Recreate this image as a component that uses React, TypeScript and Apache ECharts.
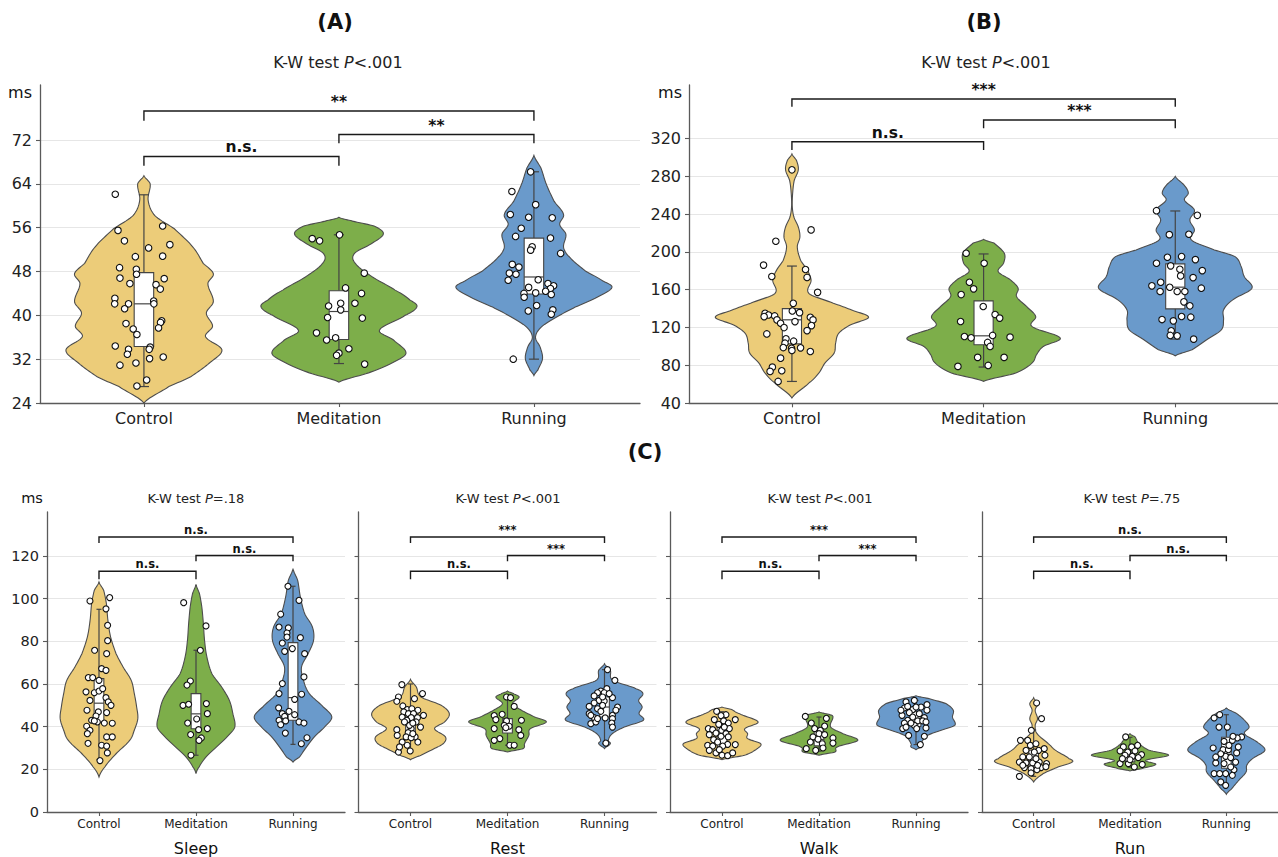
import React, { useEffect, useRef } from "react";
import * as echarts from "echarts";

// ---------- categories & styling ----------
const GROUPS = ["Control", "Meditation", "Running"];
const COLORS = ["#ECCC79", "#7DAE4A", "#6A9ACB"];
const FONT = "DejaVu Sans";

// ---------- tick labels ----------
const A_TICKS = [24, 32, 40, 48, 56, 64, 72];
const B_TICKS = [40, 80, 120, 160, 200, 240, 280, 320];
const C_TICKS = [0, 20, 40, 60, 80, 100, 120];
const C_CONDITIONS = ["Sleep", "Rest", "Walk", "Run"];
const C_PVALUES = ["=.18", "<.001", "<.001", "=.75"];

// ---------- observations: [jitter offset, ms] ----------
const aControl = [[-0.147,62.1],[-0.133,55.5],[0.096,56.3],[-0.1,53.6],[0.133,52.9],[0.024,52.3],[-0.044,50.7],[0.096,50.8],[-0.125,48.7],[-0.039,48.4],[-0.123,46.8],[-0.038,47.5],[0.104,46.7],[-0.072,45.8],[0.062,45.6],[0.084,44.8],[-0.149,43.1],[-0.15,42.1],[-0.079,42.1],[-0.099,41.2],[0.05,42.6],[0.051,42.1],[-0.092,38.5],[0.091,39.0],[0.085,38.7],[0.075,37.7],[-0.055,37.5],[-0.036,36.5],[-0.147,34.4],[-0.079,33.8],[-0.085,32.9],[0.032,34.2],[0.027,33.8],[-0.041,31.3],[0.029,32.1],[0.099,32.4],[-0.123,30.9],[0.014,28.2],[-0.036,27.1]];
const aMeditation = [[-0.137,54.0],[-0.099,53.6],[0.003,54.7],[0.13,47.7],[0.034,45.0],[0.116,44.0],[0.009,42.2],[-0.053,41.7],[0.082,42.2],[0.009,41.0],[-0.058,39.6],[0.12,39.5],[-0.115,36.8],[-0.063,35.5],[-0.017,35.9],[0.051,33.9],[0,33.1],[-0.012,32.7],[0.132,31.1]];
const aRunning = [[-0.017,66.2],[-0.113,62.6],[0.009,60.2],[-0.121,58.4],[-0.027,57.9],[0.094,57.8],[-0.065,55.9],[-0.094,54.4],[0.085,54.1],[-0.009,52.5],[-0.017,51.9],[0.137,51.3],[-0.111,49.3],[-0.077,48.8],[-0.126,47.7],[-0.092,47.5],[-0.132,46.4],[0.022,46.5],[-0.027,45.1],[0.072,45.8],[0.101,45.4],[0.085,44.9],[0.06,44.4],[0.009,44.1],[-0.051,44.0],[-0.05,43.3],[0.089,43.8],[0.014,41.8],[-0.029,40.8],[0.097,41.0],[0.089,40.2],[-0.106,32.0]];

const bControl = [[0,286.7],[0.1,223.2],[-0.084,211.2],[-0.148,186.0],[0.071,181.4],[0.079,173.0],[-0.105,174.0],[0.134,157.2],[0.007,145.6],[0.002,137.5],[0.04,135.8],[-0.14,135.1],[-0.122,133.3],[-0.145,131.6],[-0.09,132.3],[-0.078,128.1],[-0.059,124.6],[-0.041,120.0],[0.096,130.9],[0.11,128.1],[0.102,122.1],[0.079,116.8],[0.016,126.3],[-0.131,113.3],[-0.031,108.1],[-0.036,103.5],[0.009,105.6],[-0.045,98.9],[-0.002,98.2],[0,95.8],[0.045,98.6],[0.096,94.7],[-0.059,87.7],[-0.102,78.2],[-0.114,73.7],[-0.053,74.4],[-0.072,63.1]];
const bMeditation = [[-0.091,198.5],[0.003,188.0],[-0.074,167.9],[-0.052,160.9],[-0.117,154.9],[-0.002,142.3],[0.06,133.8],[0.084,130.0],[-0.12,126.4],[-0.1,110.6],[-0.065,109.2],[0.047,111.7],[0.138,109.9],[0.021,104.3],[0.034,100.1],[-0.031,88.5],[0.107,88.5],[-0.134,79.0],[0.024,80.0]];
const bRunning = [[-0.098,243.5],[0.115,238.6],[-0.031,218.2],[0.071,218.6],[-0.041,194.3],[0.033,195.0],[0.105,191.8],[-0.098,188.0],[-0.024,185.2],[0.024,181.6],[0.141,180.2],[0.028,174.6],[0.093,172.8],[-0.076,167.9],[-0.122,164.1],[-0.079,158.1],[-0.029,162.6],[0.01,158.1],[0.05,158.1],[0.136,161.6],[0.045,147.2],[0.076,143.0],[0.033,131.7],[0.081,131.0],[-0.069,128.5],[-0.01,127.1],[-0.021,116.6],[-0.026,111.7],[0.01,111.3],[0.096,107.8]];

const sleepControl = [[-0.093,98.9],[0.11,100.5],[0.072,95.2],[0.089,87.5],[0.089,80.3],[-0.045,75.8],[0.079,74.2],[0.027,67.2],[0.072,66.4],[-0.11,63.0],[-0.065,63.0],[-0.134,56.3],[-0.048,55.9],[0,56.7],[0.038,57.8],[-0.093,52.3],[0.072,53.6],[0.096,51.6],[0.124,50.0],[-0.124,47.7],[-0.007,46.9],[0.079,46.6],[-0.031,45.0],[-0.076,43.0],[-0.017,42.2],[0.055,41.7],[0.137,41.6],[-0.127,40.2],[-0.093,38.3],[-0.12,36.7],[0.079,35.2],[0.137,35.2],[-0.113,32.2],[0.027,31.3],[0.079,30.9],[0.086,27.7],[0.01,24.1],[-0.048,42.7],[0,61.7]];
const sleepMeditation = [[-0.127,98.1],[0.103,87.2],[0.045,75.8],[-0.058,61.4],[-0.093,59.5],[-0.134,50.0],[-0.076,50.5],[0.107,50.8],[0.117,46.1],[0.007,43.6],[-0.086,41.7],[0.027,38.6],[0.117,39.1],[-0.055,36.3],[0.055,34.7],[0.031,33.6],[-0.052,26.6]];
const sleepRunning = [[-0.052,105.8],[0.062,99.2],[-0.127,92.7],[-0.144,86.7],[-0.048,86.3],[-0.062,83.9],[0.076,81.7],[-0.11,79.2],[-0.062,82.0],[-0.007,76.6],[-0.086,75.3],[0.12,74.2],[0.113,63.3],[-0.11,60.2],[0.089,55.2],[-0.144,55.5],[0.017,52.8],[-0.148,48.8],[-0.041,47.2],[-0.11,46.1],[0.017,45.6],[-0.086,44.8],[-0.144,43.0],[-0.076,42.7],[0.062,42.2],[0.113,41.7],[-0.127,40.9],[-0.079,37.0],[0.144,34.8],[0.086,32.0]];

const restControl = [[-0.089,59.7],[0.124,55.5],[-0.124,53.9],[0.041,53.1],[-0.141,51.9],[-0.079,49.7],[-0.034,48.0],[0.014,48.4],[0.076,47.7],[-0.069,46.9],[-0.021,46.1],[0.031,46.1],[0.134,45.3],[-0.086,44.5],[0.007,44.2],[0.072,44.2],[-0.038,43.0],[0.103,39.8],[-0.141,38.6],[0.007,39.1],[-0.024,37.2],[-0.137,35.9],[0.048,35.2],[-0.045,35.2],[0.007,34.8],[0.076,32.8],[-0.086,32.8],[-0.034,31.3],[-0.124,28.1],[-0.003,28.6],[-0.01,40.6],[0.024,36.7],[-0.062,42.2],[0.058,42.2],[-0.113,30.5],[0.024,41.7]];
const restMeditation = [[-0.01,53.9],[0.031,53.6],[0.069,49.5],[-0.137,45.2],[-0.055,45.8],[-0.12,43.3],[-0.01,42.7],[-0.034,40.6],[0.144,43.0],[0.017,40.2],[-0.137,39.1],[0.117,38.6],[0.137,35.9],[-0.079,34.4],[-0.137,33.6],[0.024,31.3],[0.069,31.3],[-0.017,39.5]];
const restRunning = [[0.031,66.7],[0.107,61.7],[0.024,57.8],[-0.038,56.7],[-0.072,55.9],[-0.003,55.9],[-0.107,54.4],[0.082,53.6],[-0.055,52.3],[-0.003,52.0],[-0.107,51.1],[-0.072,48.4],[0.134,49.2],[-0.158,49.5],[-0.038,47.2],[0.082,45.3],[-0.158,46.1],[0.007,44.1],[0.082,43.75],[-0.107,44.2],[0.075,41.7],[-0.141,41.4],[0.082,39.8],[0.014,32.3],[-0.02,53.9],[0.048,55.5],[-0.089,42.2],[-0.141,45.3],[-0.02,50.0],[0.117,47.7],[-0.072,43.8]];

const walkControl = [[-0.055,47.2],[0.041,45.6],[-0.01,45.2],[0.137,43.3],[-0.079,43.3],[0.017,42.7],[0.065,41.7],[-0.034,41.1],[-0.141,39.1],[-0.096,38.6],[0.076,39.1],[-0.003,38.3],[-0.062,37.0],[0.041,36.7],[-0.131,36.25],[-0.01,35.5],[0.065,35.2],[-0.086,33.9],[-0.045,32.8],[-0.148,31.25],[-0.096,30.9],[0.058,31.7],[0.137,31.6],[0.007,30.9],[-0.131,28.9],[-0.062,27.7],[0,26.6],[0.058,26.4],[0.11,27.7],[-0.027,29.2],[0.024,39.8]];
const walkMeditation = [[-0.141,44.8],[0.076,43.9],[-0.079,41.7],[0.058,40.3],[-0.045,39.1],[0.014,38.3],[0,36.7],[0.058,36.25],[-0.062,35.2],[-0.01,34.1],[0.144,34.7],[-0.089,32.8],[0.034,32.0],[0.144,32.3],[-0.131,29.7],[-0.034,28.9],[0.041,30.0]];
const walkRunning = [[-0.017,52.3],[-0.103,51.6],[0.113,50.3],[-0.12,48.75],[-0.034,48.0],[0.052,49.2],[0.113,47.7],[-0.069,46.6],[0.034,46.1],[-0.144,45.3],[-0.034,44.5],[0.086,44.2],[-0.086,43.0],[0.017,42.7],[-0.12,41.7],[-0.017,40.6],[0.103,39.4],[-0.137,39.1],[0.007,39.1],[-0.076,35.9],[0.086,35.5],[0.045,31.6],[0.069,42.7],[-0.052,41.7],[-0.086,49.5],[-0.155,47.7],[0,49.2],[0.103,42.2],[-0.103,39.8]];

const runControl = [[0.031,51.1],[0.082,43.75],[-0.024,38.3],[-0.137,33.6],[-0.062,33.6],[-0.034,31.25],[0.024,32.0],[0.11,29.7],[0.052,28.9],[-0.113,25.8],[-0.045,25.8],[0.007,28.1],[0.117,26.6],[-0.148,23.4],[-0.079,23.0],[-0.01,23.0],[0.058,23.4],[0.134,22.7],[-0.096,20.8],[-0.027,20.3],[0.076,20.8],[0.034,19.8],[-0.027,18.3],[-0.148,16.7],[0.024,25.0],[-0.079,28.9],[0.127,21.25],[-0.113,21.9],[0.041,21.9]];
const runMeditation = [[-0.045,35.2],[0.079,31.25],[-0.069,30.5],[0.017,30.5],[-0.103,28.6],[-0.024,28.1],[0.052,28.6],[0.12,26.9],[-0.052,26.6],[0.024,26.1],[0.086,25.5],[-0.103,22.7],[-0.017,22.7],[0.045,21.1],[0.127,22.3],[0,24.5],[-0.079,25.0]];
const runRunning = [[-0.069,45.6],[-0.127,44.1],[0.01,39.8],[-0.076,39.8],[0.158,35.2],[0.113,34.7],[0.062,33.6],[-0.024,33.1],[-0.137,30.0],[-0.034,29.2],[0.021,29.2],[0.107,27.7],[-0.007,26.1],[0.045,25.5],[-0.11,23.0],[0.096,23.4],[-0.024,22.7],[0.079,19.8],[-0.127,18.0],[-0.069,18.0],[-0.007,18.0],[0.062,17.2],[-0.058,14.1],[-0.007,12.5],[-0.058,27.3],[0.027,31.25],[0.069,35.5],[0.124,30.5],[-0.11,25.8],[0.045,21.1]];

// ---------- density outlines: [ms, relative half-width] ----------
const aControlShape = [[65.5,0],[64,0.08],[61,0.054],[58.2,0.14],[55.8,0.39],[52.5,0.625],[49.5,0.76],[47.6,0.89],[45.8,0.82],[42.5,0.89],[40.4,0.8],[38,0.88],[36.1,0.79],[33.7,1.0],[31.3,0.84],[28.8,0.6],[27,0.32],[24,0]];
const aMeditationShape = [[57.9,0],[57.3,0.15],[56.3,0.45],[54.9,0.57],[53.2,0.43],[51.3,0.2],[49.5,0.21],[47,0.43],[44.6,0.72],[42.8,0.91],[41.6,1.0],[40,0.85],[37.3,0.52],[35.5,0.7],[33.1,0.86],[31.3,0.68],[29.5,0.38],[27.8,0]];
const aRunningShape = [[69.2,0],[66.9,0.09],[63.9,0.16],[60.8,0.26],[58.4,0.38],[56.6,0.33],[54.8,0.41],[52.4,0.38],[50.6,0.46],[48.1,0.66],[46.3,0.88],[45.1,1.0],[43.3,0.81],[41.5,0.53],[39.6,0.28],[37.8,0.09],[36.0,0.02],[34.2,0.08],[32.1,0.11],[30.0,0.05],[29.0,0]];

const bControlShape = [[303.5,0],[296.5,0.06],[286.7,0.083],[275.4,0.03],[261.4,0.009],[247.4,0.005],[236.8,0.026],[226.3,0.083],[215.8,0.104],[205.3,0.07],[191.2,0.113],[180.7,0.2],[170.2,0.25],[156.1,0.22],[145.6,0.54],[138.6,0.78],[130.9,1.0],[122.8,0.76],[114,0.61],[103.5,0.57],[93,0.55],[82.4,0.43],[71.9,0.35],[61.4,0.22],[45.6,0]];
const bMeditationShape = [[213.3,0],[209.1,0.14],[198.5,0.27],[188,0.26],[179.2,0.19],[170.4,0.35],[161.6,0.45],[152.8,0.43],[142.3,0.56],[131.7,0.68],[121.2,0.63],[108.9,1.0],[100.1,0.78],[91.3,0.69],[82.5,0.63],[72,0.42],[63.2,0]];
const bRunningShape = [[279.8,0],[270,0.12],[262,0.17],[254.8,0.12],[244.2,0.25],[233.7,0.19],[223.1,0.25],[212.6,0.21],[202,0.51],[195,0.78],[184.4,0.86],[173.9,0.9],[161.6,1.0],[149.3,0.75],[138.7,0.63],[128.2,0.63],[117.6,0.6],[107.1,0.41],[96.6,0.22],[90.2,0]];

const sleepControlShape = [[107.8,0],[103.9,0.12],[97.7,0.19],[89.8,0.23],[82,0.3],[74.2,0.44],[68,0.62],[61.7,0.83],[55.5,0.91],[49.2,0.97],[43.75,1.0],[38.3,0.91],[33.6,0.79],[27.3,0.44],[21.1,0.15],[16.4,0]];
const sleepMeditationShape = [[106.7,0],[102.3,0.09],[96.1,0.15],[88.3,0.19],[80.5,0.22],[72.7,0.28],[64.8,0.41],[58.6,0.66],[52.3,0.86],[46.1,0.95],[39.8,1.0],[35.2,0.8],[30.5,0.53],[25.8,0.26],[21.1,0.08],[18,0]];
const sleepRunningShape = [[114,0],[108.6,0.12],[100.8,0.19],[93,0.3],[86.7,0.5],[80.5,0.53],[74.2,0.39],[68,0.22],[61.7,0.27],[55.5,0.42],[49.2,0.78],[44.5,1.0],[39.8,0.81],[35.2,0.55],[30.5,0.35],[25.8,0.17],[23.4,0]];

const restControlShape = [[62.2,0],[58.6,0.15],[53.9,0.27],[50,0.79],[46.1,1.0],[42.2,0.88],[39.1,0.62],[35.2,0.9],[32,0.84],[28.9,0.53],[26.6,0.27],[24.5,0]];
const restMeditationShape = [[56.7,0],[55.5,0.15],[53.9,0.3],[50.8,0.13],[47.7,0.36],[44.5,0.7],[42.2,1.0],[39.1,0.59],[35.9,0.55],[32,0.44],[29.7,0.4],[28.1,0]];
const restRunningShape = [[69.5,0],[66.4,0.15],[61.7,0.21],[57.8,0.81],[55.5,0.99],[52.3,0.88],[49.2,0.97],[46.1,0.89],[43,1.0],[39.8,0.51],[36.7,0.2],[33.6,0.1],[32,0.15],[29.7,0]];

const walkControlShape = [[49.2,0],[48,0.25],[46.1,0.45],[42.2,0.93],[39.1,0.59],[36.7,0.66],[34.4,0.66],[32,1.0],[29.2,0.87],[26.6,0.58],[24.5,0]];
const walkMeditationShape = [[46.9,0],[45.5,0.3],[44.5,0.36],[39.8,0.3],[36.7,0.62],[33.6,1.0],[30.5,0.47],[28.1,0.41],[26.6,0]];
const walkRunningShape = [[54.5,0],[53.1,0.35],[50.8,0.77],[47.7,0.96],[44.5,0.94],[40.6,1.0],[38.3,0.65],[35.9,0.29],[32,0.13],[30.5,0.13],[29.2,0]];

const runControlShape = [[53.6,0],[50.8,0.1],[47.7,0.04],[43.75,0.1],[40.6,0.04],[36.7,0.09],[32,0.38],[28.9,0.57],[25,0.92],[23.4,1.0],[21.1,0.63],[18,0.25],[14.1,0]];
const runMeditationShape = [[36.7,0],[35.2,0.13],[32,0.24],[28.9,0.5],[26.6,1.0],[24.2,0.41],[22.3,0.67],[20.3,0.3],[19.2,0]];
const runRunningShape = [[48.75,0],[46.1,0.27],[43,0.47],[39.8,0.59],[36.7,0.47],[32.8,0.8],[28.9,1.0],[25,0.68],[21.9,0.53],[18.75,0.51],[14.8,0.32],[10.9,0.14],[8.3,0]];

// ---------- box statistics: [lower whisker, Q1, median, Q3, upper whisker] ----------
const aBoxes = [[27.0,34.3,42.1,47.8,62.0],[31.2,35.6,40.7,44.5,54.7],[32.0,43.9,47.0,54.1,66.2]];
const bBoxes = [[63.1,102.8,128.2,140.0,185.0],[78.3,101.8,111.3,148.2,197.8],[107.8,139.8,162.7,187.3,243.2]];
const sleepBoxes = [[24.5,42,51,62.5,95],[26.6,39,46,55.5,75.8],[31.7,43,53.6,79.4,105.8]];
const restBoxes = [[28,36,42,47,60],[31.3,37,41,43.75,53.9],[32,44.5,49.2,53.9,66.7]];
const walkBoxes = [[26.5,30.5,35.5,41,47],[28.5,31,34,38,44.5],[31.6,40,43.5,47,52.3]];
const runBoxes = [[16.7,21,24,29,38.5],[21,23.5,26,28,35],[12.5,20.5,27,35,45.6]];

// ---------- pairwise comparisons: [from, to, bar level, leg end, label] ----------
const aBrackets = [[0,1,69.0,67.3,"n.s."],[1,2,73.0,71.4,"**"],[0,2,77.3,75.5,"**"]];
const bBrackets = [[0,1,316.4,307.6,"n.s."],[1,2,339.3,330.6,"***"],[0,2,361.5,353.4,"***"]];
const sleepBrackets = [[0,1,112.8,109.1,"n.s."],[1,2,120.2,117.5,"n.s."],[0,2,128.9,126.1,"n.s."]];
const restBrackets = [[0,1,112.8,109.1,"n.s."],[1,2,120.2,117.5,"***"],[0,2,128.9,126.1,"***"]];
const walkBrackets = [[0,1,112.8,109.1,"n.s."],[1,2,120.2,117.5,"***"],[0,2,128.9,126.1,"***"]];
const runBrackets = [[0,1,112.8,109.1,"n.s."],[1,2,120.2,117.5,"n.s."],[0,2,128.9,126.1,"n.s."]];

// ---------- panel layout ----------
const PANELS = [
  { left: 40, top: 85, width: 600, height: 318, xMin: -0.533, xMax: 2.544, yMin: 24, yMax: 82.04, ticks: A_TICKS, showY: true, big: true, xName: "",
    pts: [aControl, aMeditation, aRunning], shapes: [aControlShape, aMeditationShape, aRunningShape], boxes: aBoxes, brackets: aBrackets },
  { left: 689, top: 85, width: 594.6, height: 318.3, xMin: -0.537, xMax: 2.536, yMin: 40, yMax: 376.3, ticks: B_TICKS, showY: true, big: true, xName: "",
    pts: [bControl, bMeditation, bRunning], shapes: [bControlShape, bMeditationShape, bRunningShape], boxes: bBoxes, brackets: bBrackets },
  { left: 47, top: 512, width: 298, height: 300, xMin: -0.536, xMax: 2.536, yMin: 0, yMax: 140.6, ticks: C_TICKS, showY: true, big: false, xName: C_CONDITIONS[0],
    pts: [sleepControl, sleepMeditation, sleepRunning], shapes: [sleepControlShape, sleepMeditationShape, sleepRunningShape], boxes: sleepBoxes, brackets: sleepBrackets },
  { left: 358.5, top: 512, width: 298, height: 300, xMin: -0.536, xMax: 2.536, yMin: 0, yMax: 140.6, ticks: C_TICKS, showY: false, big: false, xName: C_CONDITIONS[1],
    pts: [restControl, restMeditation, restRunning], shapes: [restControlShape, restMeditationShape, restRunningShape], boxes: restBoxes, brackets: restBrackets },
  { left: 670, top: 512, width: 298, height: 300, xMin: -0.536, xMax: 2.536, yMin: 0, yMax: 140.6, ticks: C_TICKS, showY: false, big: false, xName: C_CONDITIONS[2],
    pts: [walkControl, walkMeditation, walkRunning], shapes: [walkControlShape, walkMeditationShape, walkRunningShape], boxes: walkBoxes, brackets: walkBrackets },
  { left: 982, top: 512, width: 298, height: 300, xMin: -0.536, xMax: 2.536, yMin: 0, yMax: 140.6, ticks: C_TICKS, showY: false, big: false, xName: C_CONDITIONS[3],
    pts: [runControl, runMeditation, runRunning], shapes: [runControlShape, runMeditationShape, runRunningShape], boxes: runBoxes, brackets: runBrackets },
];

const VIOLIN_HALF = 0.4;
const BOX_HALF = 0.05;
const CAP_HALF = 0.026;
const INK = "#444";

function catmull(p0: number, p1: number, p2: number, p3: number, t: number) {
  const t2 = t * t, t3 = t2 * t;
  return 0.5 * (2 * p1 + (-p0 + p2) * t + (2 * p0 - 5 * p1 + 4 * p2 - p3) * t2 + (-p0 + 3 * p1 - 3 * p2 + p3) * t3);
}

// smooth outline between the sampled widths
function densify(shape: number[][]) {
  const out: number[][] = [];
  const n = shape.length;
  for (let i = 0; i < n - 1; i++) {
    const w0 = shape[Math.max(0, i - 1)][1];
    const w1 = shape[i][1];
    const w2 = shape[i + 1][1];
    const w3 = shape[Math.min(n - 1, i + 2)][1];
    const steps = 10;
    for (let s = 0; s < steps; s++) {
      const t = s / steps;
      const v = shape[i][0] + (shape[i + 1][0] - shape[i][0]) * t;
      out.push([v, Math.max(0, catmull(w0, w1, w2, w3, t))]);
    }
  }
  out.push(shape[n - 1]);
  return out;
}

function kwText(p: string, size: number, x: number, y: number) {
  const base = { fontSize: size, fontFamily: FONT, fill: "#222" };
  return {
    type: "text", x, y, silent: true,
    style: {
      text: `{n|K-W test }{i|P}{n|${p}}`,
      align: "center", verticalAlign: "middle", textAlign: "center", textVerticalAlign: "middle",
      fontSize: size, fontFamily: FONT, fill: "#222",
      rich: { n: { ...base }, i: { ...base, fontStyle: "italic" } },
    },
  };
}

function plainText(text: string, size: number, x: number, y: number, bold = false) {
  return {
    type: "text", x, y, silent: true,
    style: {
      text, fontSize: size, fontFamily: FONT, fontWeight: bold ? "bold" : "normal", fill: "#111",
      align: "center", verticalAlign: "middle", textAlign: "center", textVerticalAlign: "middle",
    },
  };
}

function buildOption() {
  const grid: any[] = [];
  const xAxis: any[] = [];
  const yAxis: any[] = [];
  const series: any[] = [];

  PANELS.forEach((p, k) => {
    const labelSize = p.big ? 16 : 12;
    const yLabelSize = p.big ? 16 : 14.5;
    grid.push({ left: p.left, top: p.top, width: p.width, height: p.height, containLabel: false });
    xAxis.push({
      type: "value", gridIndex: k, min: p.xMin, max: p.xMax,
      name: p.xName, nameLocation: "middle", nameGap: 28,
      nameTextStyle: { fontSize: 16, fontFamily: FONT, color: "#111" },
      axisLine: { show: true, onZero: false, lineStyle: { color: "#5a5a5a", width: 1.3 } },
      axisTick: { show: true, length: 4, customValues: [0, 1, 2], lineStyle: { color: "#5a5a5a", width: 1.1 } },
      axisLabel: {
        show: true, customValues: [0, 1, 2], margin: p.big ? 7 : 6,
        fontSize: labelSize, fontFamily: FONT, color: "#222",
        formatter: (v: number) => GROUPS[Math.round(v)] ?? "",
      },
      splitLine: { show: false },
    });
    yAxis.push({
      type: "value", gridIndex: k, min: p.yMin, max: p.yMax,
      axisLine: { show: true, onZero: false, lineStyle: { color: "#5a5a5a", width: 1.3 } },
      axisTick: { show: true, length: 4, customValues: p.ticks, lineStyle: { color: "#5a5a5a", width: 1.1 } },
      axisLabel: {
        show: p.showY, customValues: p.ticks, margin: 8,
        fontSize: yLabelSize, fontFamily: FONT, color: "#222",
      },
      splitLine: { show: true, lineStyle: { color: "#e6e6e6", width: 1 } },
    });

    const shapes = p.shapes;
    const boxes = p.boxes;
    const brackets = p.brackets;

    // violins
    series.push({
      type: "custom", xAxisIndex: k, yAxisIndex: k, z: 2, silent: true,
      data: [0, 1, 2].map((g) => [g, boxes[g][2]]),
      encode: { x: 0, y: 1 },
      renderItem: (_params: any, api: any) => {
        const g = api.value(0);
        const prof = densify(shapes[g]);
        const leftSide = prof.map(([v, w]) => api.coord([g - w * VIOLIN_HALF, v]));
        const rightSide = prof.slice().reverse().map(([v, w]) => api.coord([g + w * VIOLIN_HALF, v]));
        return {
          type: "polygon",
          shape: { points: leftSide.concat(rightSide) },
          style: { fill: COLORS[g], stroke: "#4d4d4d", lineWidth: 1.1 },
        };
      },
    });

    // box-and-whisker
    series.push({
      type: "custom", xAxisIndex: k, yAxisIndex: k, z: 3, silent: true,
      data: [0, 1, 2].map((g) => [g, boxes[g][2]]),
      encode: { x: 0, y: 1 },
      renderItem: (_params: any, api: any) => {
        const g = api.value(0);
        const [lo, q1, md, q3, hi] = boxes[g];
        const c = (x: number, y: number) => api.coord([x, y]);
        const pLo = c(g, lo), pHi = c(g, hi);
        const capLoL = c(g - CAP_HALF, lo), capLoR = c(g + CAP_HALF, lo);
        const capHiL = c(g - CAP_HALF, hi), capHiR = c(g + CAP_HALF, hi);
        const bTL = c(g - BOX_HALF, q3), bBR = c(g + BOX_HALF, q1);
        const mL = c(g - BOX_HALF, md), mR = c(g + BOX_HALF, md);
        const ls = { stroke: INK, lineWidth: 1.2 };
        return {
          type: "group",
          children: [
            { type: "line", shape: { x1: pLo[0], y1: pLo[1], x2: pHi[0], y2: pHi[1] }, style: ls },
            { type: "line", shape: { x1: capLoL[0], y1: capLoL[1], x2: capLoR[0], y2: capLoR[1] }, style: ls },
            { type: "line", shape: { x1: capHiL[0], y1: capHiL[1], x2: capHiR[0], y2: capHiR[1] }, style: ls },
            { type: "rect", shape: { x: bTL[0], y: bTL[1], width: bBR[0] - bTL[0], height: bBR[1] - bTL[1] }, style: { fill: "#fff", stroke: INK, lineWidth: 1.1 } },
            { type: "line", shape: { x1: mL[0], y1: mL[1], x2: mR[0], y2: mR[1] }, style: ls },
          ],
        };
      },
    });

    // individual observations
    const scatterData: number[][] = [];
    p.pts.forEach((grp, g) => grp.forEach(([dx, v]) => scatterData.push([g + dx, v])));
    series.push({
      type: "scatter", xAxisIndex: k, yAxisIndex: k, z: 4, silent: true,
      symbol: "circle", symbolSize: p.big ? 6.5 : 6,
      itemStyle: { color: "#fff", borderColor: "#111", borderWidth: 1.1, opacity: 1 },
      data: scatterData,
    });

    // significance brackets
    series.push({
      type: "custom", xAxisIndex: k, yAxisIndex: k, z: 5, silent: true,
      data: brackets.map((b: any, i: number) => [i, b[2]]),
      encode: { x: 0, y: 1 },
      renderItem: (_params: any, api: any) => {
        const b: any = brackets[api.value(0)];
        const [x1, x2, bar, leg, label] = b;
        const a = api.coord([x1, leg]), bb = api.coord([x1, bar]), cc = api.coord([x2, bar]), d = api.coord([x2, leg]);
        const mid = api.coord([(x1 + x2) / 2, bar]);
        return {
          type: "group",
          children: [
            { type: "polyline", shape: { points: [a, bb, cc, d] }, style: { stroke: "#1a1a1a", lineWidth: 1.4, fill: "none" } },
            {
              type: "text", x: mid[0], y: mid[1] - 1,
              style: {
                text: label, fontSize: p.big ? 15.5 : 11.5, fontWeight: "bold", fontFamily: FONT, fill: "#111",
                align: "center", verticalAlign: "bottom", textAlign: "center", textVerticalAlign: "bottom",
              },
            },
          ],
        };
      },
    });
  });

  const graphic: any[] = [
    plainText("(A)", 21, 335, 22, true),
    plainText("(B)", 21, 984, 22, true),
    plainText("(C)", 21, 645, 452, true),
    kwText("<.001", 16, 338, 62),
    kwText("<.001", 16, 986, 62),
    kwText(C_PVALUES[0], 13, 196, 498),
    kwText(C_PVALUES[1], 13, 508, 498),
    kwText(C_PVALUES[2], 13, 820, 498),
    kwText(C_PVALUES[3], 13, 1132, 498),
    plainText("ms", 16, 20, 92),
    plainText("ms", 16, 670, 92),
    plainText("ms", 14.5, 32, 498),
  ];

  return { animation: false, backgroundColor: "#fff", grid, xAxis, yAxis, series, graphic };
}

export default function App() {
  const ref = useRef<HTMLDivElement>(null);
  useEffect(() => {
    if (!ref.current) return;
    const chart = echarts.init(ref.current, null, { renderer: "svg" });
    chart.setOption(buildOption() as any);
    return () => chart.dispose();
  }, []);
  return (
    <div
      ref={ref}
      style={{ position: "fixed", left: 0, top: 0, width: 1278, height: 857, background: "#fff" }}
    />
  );
}
